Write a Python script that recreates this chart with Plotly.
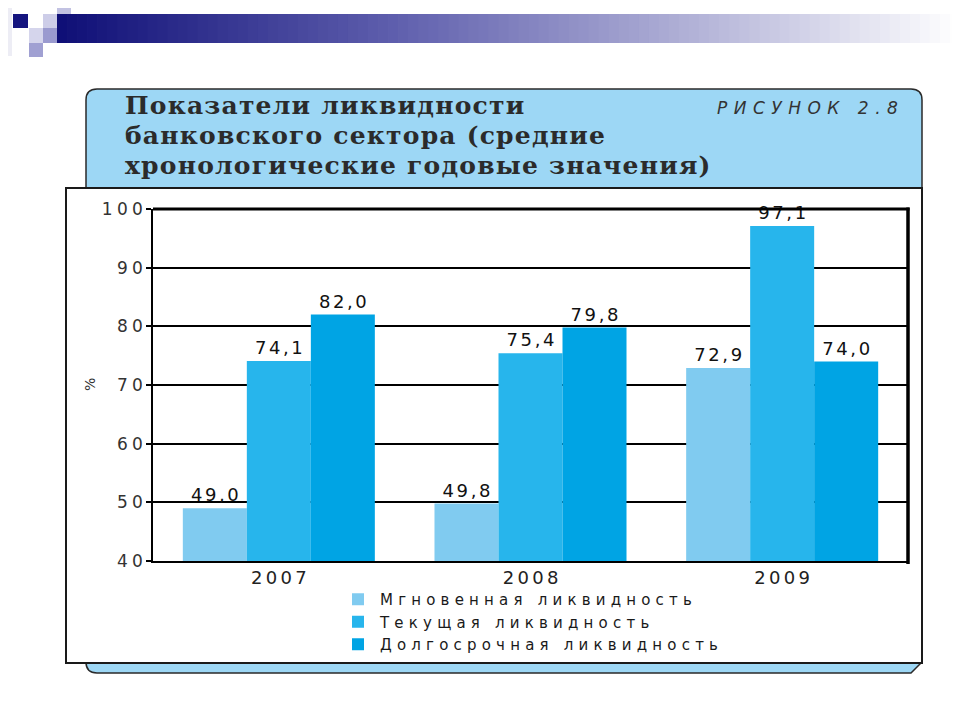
import plotly.graph_objects as go

# ---------------- data ----------------
years = ["2007", "2008", "2009"]
series_names = ["Мгновенная ликвидность", "Текущая ликвидность", "Долгосрочная ликвидность"]
instant_liq = [49.0, 49.8, 72.9]
current_liq = [74.1, 75.4, 97.1]
longterm_liq = [82.0, 79.8, 74.0]
y_ticks = [40, 50, 60, 70, 80, 90, 100]
title_lines = ["Показатели ликвидности", "банковского сектора (средние",
               "хронологические годовые значения)"]
figure_label = "РИСУНОК 2.8"
y_unit = "%"

# ---------------- layout helpers ----------------
W, H = 960, 720
OFF = 8                      # page body margin of the browser
L, R, T, B = 153, 908, 209, 561   # plot area in screen pixels


def X(px):
    return (px - L) / (R - L)


def Y(py):
    return (B - py) / (B - T)


def ls(text, sp):
    text = str(text)
    if len(text) < 2:
        return text
    return f'<span style="letter-spacing:{sp}px">{text[:-1]}</span>{text[-1]}'


def fmt(v):
    return f"{v:.1f}".replace(".", ",")


SANS = "DejaVu Sans"
colors = ["#80cbf0", "#27b5ec", "#00a4e4"]
series_values = [instant_liq, current_liq, longterm_liq]

fig = go.Figure()
for name, vals, col in zip(series_names, series_values, colors):
    fig.add_trace(go.Bar(
        x=years, y=vals, name=ls(name, 5.2),
        marker=dict(color=col, line=dict(width=0)),
        text=[ls(fmt(v), 2.6) for v in vals], textposition="outside",
        textfont=dict(family=SANS, size=18, color="#111"),
        constraintext="none", cliponaxis=False, hoverinfo="x+y+name",
    ))

shapes = []

# gradient bar at top
stops = [(57, (14, 14, 118)), (400, (96, 96, 174)), (700, (180, 180, 216)), (960, (255, 255, 255))]


def grad(px):
    for (a, ca), (b, cb) in zip(stops[:-1], stops[1:]):
        if a <= px <= b:
            t = (px - a) / (b - a)
            return "rgb(%d,%d,%d)" % tuple(round(ca[i] + (cb[i] - ca[i]) * t) for i in range(3))
    return "rgb(255,255,255)"


n = 90
x0 = 57
step = (960 - x0) / n
for i in range(n):
    a = x0 + i * step
    shapes.append(dict(type="rect", xref="paper", yref="paper", layer="below",
                       x0=X(a), x1=X(a + step + 0.8), y0=Y(43), y1=Y(14),
                       fillcolor=grad(a + step / 2), line=dict(width=0)))

squares = [((13, 14, 28, 28), "#15157f"), ((43, 14, 57, 28), "#cdcde8"),
           ((57, 0, 71, 14), "#c2c2e2"), ((29, 28, 43, 43), "#d5d5ec"),
           ((43, 28, 57, 43), "#9a9acf"), ((29, 43, 43, 57), "#a0a0d2"),
           ((8, 8, 12, 56), "#ededf5")]
for (a, b, c, d), col in squares:
    shapes.append(dict(type="rect", xref="paper", yref="paper", layer="below",
                       x0=X(a), x1=X(c), y0=Y(d), y1=Y(b),
                       fillcolor=col, line=dict(width=0)))

# blue rounded panel
px0, py0, px1, py1, r = 86, 89, 922, 673, 11
rx = r / (R - L)
ry = r / (B - T)
xa, xb, ya, yb = X(px0), X(px1), Y(py0), Y(py1)
path = (f"M{xa + rx},{ya} L{xb - rx},{ya} Q{xb},{ya} {xb},{ya - ry} "
        f"L{xb},{yb + ry} L{xb - rx},{yb} L{xa + rx},{yb} Q{xa},{yb} {xa},{yb + ry} "
        f"L{xa},{ya - ry} Q{xa},{ya} {xa + rx},{ya} Z")
shapes.append(dict(type="path", xref="paper", yref="paper", layer="below", path=path,
                   fillcolor="#9dd7f5", line=dict(color="#2a2a2a", width=1.5)))

# white chart box
shapes.append(dict(type="rect", xref="paper", yref="paper", layer="below",
                   x0=X(66), x1=X(922), y0=Y(663), y1=Y(188),
                   fillcolor="white", line=dict(color="#1a1a1a", width=2)))

# heavy frame top and right
shapes.append(dict(type="line", xref="paper", yref="paper", x0=0, x1=1.002, y0=1, y1=1,
                   line=dict(color="black", width=3)))
shapes.append(dict(type="line", xref="paper", yref="paper", x0=1.0, x1=1.0, y0=Y(564), y1=1.004,
                   line=dict(color="black", width=3.5)))

annotations = []
for i, line in enumerate(title_lines):
    annotations.append(dict(xref="paper", yref="paper", x=X(123), y=Y(106 + i * 29.5),
                            xanchor="left", yanchor="middle", showarrow=False,
                            text=f"<b>{ls(line, 1.2)}</b>",
                            font=dict(family="DejaVu Serif", size=25, color="#2b2b2b")))
annotations.append(dict(xref="paper", yref="paper", x=X(900), y=Y(108),
                        xanchor="right", yanchor="middle", showarrow=False,
                        text=f"<i>{ls(figure_label, 6.5)}</i>",
                        font=dict(family=SANS, size=17, color="#333")))
annotations.append(dict(xref="paper", yref="paper", x=X(90), y=Y(385),
                        xanchor="center", yanchor="middle", showarrow=False, textangle=-90,
                        text=y_unit, font=dict(family=SANS, size=14, color="#333")))

fig.update_layout(
    width=W, height=H,
    margin=dict(l=L - OFF, r=W - R + OFF, t=T - OFF, b=H - B + OFF, pad=0),
    paper_bgcolor="white", plot_bgcolor="rgba(0,0,0,0)",
    barmode="group", bargap=0.237, bargroupgap=0,
    font=dict(family=SANS, size=15, color="#222"),
    showlegend=True,
    legend=dict(x=X(336), y=Y(583), xanchor="left", yanchor="top",
                bgcolor="rgba(0,0,0,0)", font=dict(family=SANS, size=15, color="#1a1a1a"),
                itemwidth=34, traceorder="normal"),
    shapes=shapes, annotations=annotations,
)
fig.update_yaxes(range=[40, 100], tickvals=y_ticks, ticktext=[ls(v, 4.3) for v in y_ticks],
                 showgrid=True, gridcolor="black", gridwidth=1.5,
                 showline=True, linecolor="black", linewidth=1.5,
                 ticks="outside", ticklen=5, tickcolor="black", tickwidth=1.5,
                 tickfont=dict(family=SANS, size=17, color="#333"),
                 zeroline=False, fixedrange=True)
fig.update_xaxes(tickvals=years, ticktext=[ls(v, 3.3) for v in years],
                 showline=True, linecolor="black", linewidth=1.5, showgrid=False,
                 ticks="", tickfont=dict(family=SANS, size=18, color="#222"),
                 fixedrange=True)

fig.write_html("out.html")
